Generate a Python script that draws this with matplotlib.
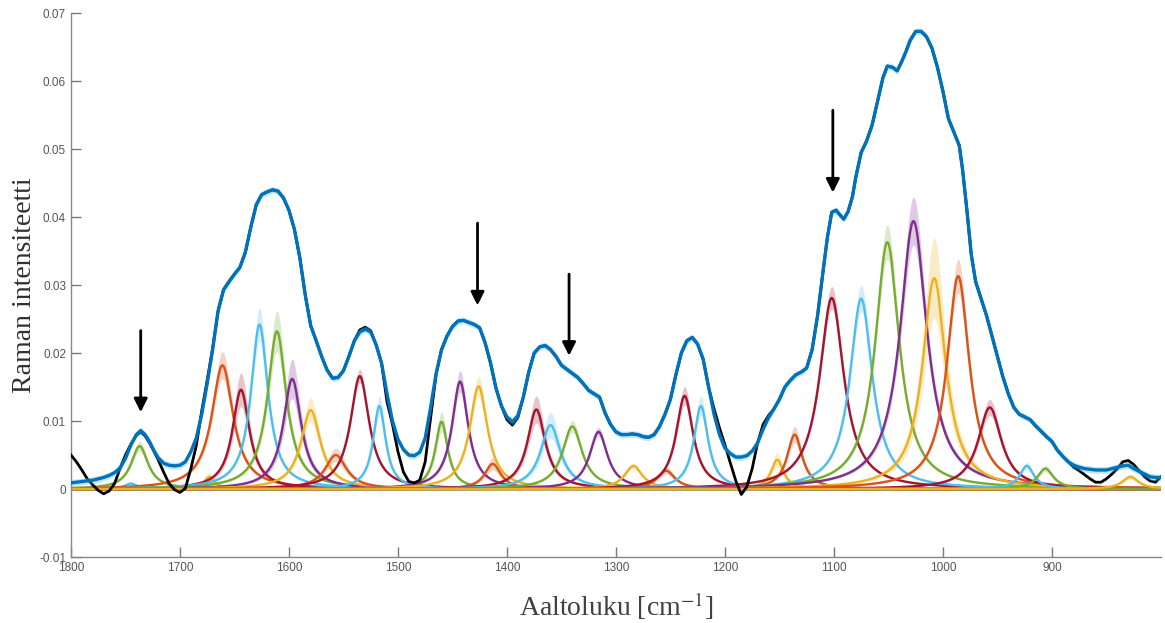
import numpy as np
import matplotlib
matplotlib.use("Agg")
import matplotlib.pyplot as plt

# ---------------- data ----------------
wavenumber = [
    1800, 1795, 1790, 1785, 1780, 1775, 1770, 1765, 1760, 1755, 1750, 1745, 1740, 1736,
    1732, 1728, 1724, 1720, 1715, 1710, 1705, 1700, 1695, 1690, 1685, 1680, 1675, 1670,
    1665, 1660, 1655, 1650, 1645, 1640, 1635, 1630, 1625, 1620, 1615, 1610, 1605, 1600,
    1595, 1590, 1585, 1580, 1575, 1570, 1565, 1560, 1555, 1550, 1545, 1540, 1535, 1530,
    1525, 1520,
    1515, 1510, 1505, 1500, 1495, 1490, 1485, 1480, 1475, 1470, 1465, 1460, 1455, 1450,
    1445, 1440, 1435, 1430, 1425, 1420, 1415, 1410, 1405, 1400, 1395, 1390, 1385, 1380,
    1375, 1370, 1365, 1360, 1355, 1350, 1345, 1340, 1335, 1330, 1325, 1320, 1315, 1310,
    1305, 1300, 1295, 1290, 1285, 1280, 1275, 1270, 1265, 1260, 1255, 1250, 1245, 1240,
    1235, 1230, 1225, 1220, 1215, 1210, 1205, 1200, 1195, 1190, 1185, 1180, 1175, 1170,
    1165, 1160,
    1155, 1150, 1145, 1140, 1135, 1130, 1125, 1120, 1115, 1110, 1106, 1102, 1098, 1095,
    1091, 1087, 1083, 1080, 1075, 1070, 1065, 1060, 1055, 1051, 1046, 1042, 1038, 1034,
    1030, 1025, 1020, 1015, 1010, 1005, 1000, 995, 990, 985, 982, 978, 974, 970,
    965, 960, 955, 950, 945, 940, 935, 930, 925, 920, 915, 910, 905, 900,
    895, 890, 885, 880, 875, 870, 865, 860, 855, 850, 845, 840, 835, 830,
    825, 820, 815, 810, 805, 800,
]

fit_intensity = [
    .0009, .0010, .0011, .0012, .0013, .0015, .0017, .0020, .0024, .0031, .0045, .0065, .0080, .0086,
    .0080, .0070, .0057, .0046, .0038, .0035, .0034, .0035, .0040, .0055, .0075, .0110, .0155, .0205,
    .0262, .0293, .0305, .0316, .0326, .0348, .0385, .0418, .0433, .0437, .0440, .0438, .0428, .0410,
    .0382, .0340, .0285, .0240, .0218, .0195, .0175, .0163, .0164, .0174, .0195, .0218, .0231, .0235,
    .0231, .0212,
    .0185, .0140, .0100, .0073, .0058, .0050, .0049, .0054, .0075, .0120, .0170, .0205, .0225, .0239,
    .0247, .0248, .0245, .0242, .0237, .0215, .0185, .0148, .0122, .0106, .0099, .0108, .0135, .0172,
    .0200, .0209, .0211, .0205, .0195, .0182, .0176, .0170, .0164, .0155, .0145, .0140, .0135, .0112,
    .0095, .0084, .0080, .0080, .0081, .0080, .0077, .0076, .0080, .0092, .0110, .0132, .0168, .0200,
    .0218, .0223, .0213, .0191, .0150, .0110, .0080, .0060, .0052, .0047, .0047, .0049, .0056, .0068,
    .0088, .0105,
    .0118, .0132, .0150, .0160, .0168, .0172, .0178, .0205, .0255, .0320, .0370, .0407, .0410, .0404,
    .0397, .0408, .0430, .0458, .0495, .0512, .0535, .0570, .0605, .0622, .0620, .0615, .0628, .0643,
    .0660, .0673, .0673, .0665, .0648, .0620, .0585, .0545, .0525, .0505, .0470, .0410, .0345, .0305,
    .0280, .0255, .0225, .0195, .0165, .0140, .0120, .0110, .0106, .0102, .0093, .0085, .0077, .0070,
    .0057, .0048, .0040, .0035, .0032, .0030, .0029, .0028, .0028, .0028, .0030, .0032, .0034, .0035,
    .0030, .0026, .0022, .0018, .0017, .0017,
]

# measured spectrum: identical to the fit except at these wavenumbers
measured_where_different = {
    1800: .0050, 1795: .0040, 1790: .0028, 1785: .0015, 1780: .0006, 1775: -.0002,
    1770: -.0007, 1765: -.0003, 1760: .0008, 1755: .0030, 1750: .0050, 1745: .0066,
    1740: .0079, 1736: .0084, 1732: .0078, 1728: .0068, 1724: .0056, 1720: .0043,
    1715: .0025, 1710: .0008, 1705: -.0001, 1700: -.0005, 1695: .0001, 1690: .0030,
    1685: .0064, 1680: .0115, 1675: .0160, 1670: .0207,
    1535: .0234, 1530: .0238, 1525: .0233,
    1510: .0128, 1505: .0095, 1500: .0055, 1495: .0025, 1490: .0011, 1485: .0009,
    1480: .0013, 1475: .0040, 1470: .0105, 1465: .0168,
    1400: .0102, 1395: .0094, 1390: .0105,
    1210: .0118, 1205: .0090, 1200: .0065, 1195: .0038, 1190: .0012, 1185: -.0008,
    1180: .0003, 1175: .0030, 1170: .0068, 1165: .0095, 1160: .0108,
    880: .0032, 875: .0027, 870: .0021, 865: .0015, 860: .0010, 855: .0010,
    850: .0015, 845: .0022, 840: .0030, 835: .0040, 830: .0042, 825: .0036,
    820: .0027, 815: .0018, 810: .0012, 805: .0010, 800: .0018,
}

# fitted component bands
peak_center = [1745, 1737, 1673, 1661, 1644, 1627, 1611, 1597, 1580, 1557, 1535, 1517,
               1460, 1443, 1426, 1413, 1373, 1360, 1340, 1316, 1284, 1254, 1237, 1222,
               1152, 1136, 1102, 1075, 1051, 1027, 1008, 986, 957, 923, 906, 828]
peak_height = [.0008, .0063, .0018, .0182, .0146, .0242, .0232, .0162, .0116, .0050, .0166, .0122,
               .0099, .0158, .0151, .0037, .0117, .0094, .0092, .0084, .0034, .0027, .0137, .0122,
               .0043, .0080, .0281, .0280, .0363, .0394, .0310, .0313, .0120, .0034, .0030, .0018]
peak_fwhm = [14, 19, 12, 24, 19, 19, 21, 20, 22, 24, 21, 14,
             14, 18, 20, 18, 20, 22, 22, 20, 20, 20, 19, 16,
             14, 17, 27, 25, 27, 30, 26, 25, 26, 16, 18, 18]
peak_rel_uncertainty = [.30, .12, .35, .11, .17, .10, .13, .18, .15, .20, .06, .12,
                        .15, .10, .10, .25, .17, .20, .10, .08, .12, .20, .10, .12,
                        .25, .15, .06, .07, .07, .09, .19, .08, .10, .15, .15, .20]

# arrows: (wavenumber, tail intensity, tip intensity)
arrow_x = [1736, 1427, 1343, 1101]
arrow_tail = [0.0233, 0.0391, 0.0316, 0.0557]
arrow_tip = [0.0113, 0.0270, 0.0196, 0.0436]

# ---------------- style ----------------
mat_blue = "#0072BD"
mat_orange = "#D95319"
mat_yellow = "#EDB120"
mat_purple = "#7E2F8E"
mat_green = "#77AC30"
mat_lblue = "#4DBEEE"
mat_red = "#A2142F"
peak_colors = [mat_lblue, mat_green, mat_yellow, mat_orange, mat_red, mat_lblue, mat_green,
               mat_purple, mat_yellow, mat_orange, mat_red, mat_lblue,
               mat_green, mat_purple, mat_yellow, mat_orange, mat_red, mat_lblue, mat_green,
               mat_purple, mat_yellow, mat_orange, mat_red, mat_lblue,
               mat_yellow, mat_orange, mat_red, mat_lblue, mat_green, mat_purple, mat_yellow,
               mat_orange, mat_red, mat_lblue, mat_green, mat_yellow]

plt.rcParams["font.family"] = ["Liberation Sans", "DejaVu Sans"]
plt.rcParams["mathtext.fontset"] = "stix"

fig = plt.figure(figsize=(11.65, 6.23), dpi=100)
ax = fig.add_axes([0.0609, 0.1059, 0.9356, 0.8732])

grid = np.linspace(800, 1800, 2001)
for c, h, w, u, col in zip(peak_center, peak_height, peak_fwhm, peak_rel_uncertainty, peak_colors):
    g = w / 2.0
    prof = h * g ** 2 / ((grid - c) ** 2 + g ** 2)
    ax.fill_between(grid, prof * (1 - u), prof * (1 + u), color=col, alpha=0.25,
                    linewidth=0, zorder=1)
    ax.plot(grid, prof, color=col, lw=1.7, zorder=2)

meas = [measured_where_different.get(w, f) for w, f in zip(wavenumber, fit_intensity)]
ax.plot(wavenumber, meas, color="black", lw=2.0, zorder=3)
fit = np.array(fit_intensity)
ax.fill_between(wavenumber, fit - 0.0005, fit + 0.0005, color=mat_lblue, alpha=0.35,
                linewidth=0, zorder=3.5)
ax.plot(wavenumber, fit, color=mat_blue, lw=2.4, zorder=4)

for x, t0, t1 in zip(arrow_x, arrow_tail, arrow_tip):
    ax.annotate("", xy=(x, t1), xytext=(x, t0),
                arrowprops=dict(arrowstyle="-|>", color="black", lw=2.0,
                                mutation_scale=20, shrinkA=0, shrinkB=0),
                zorder=6)

ax.set_xlim(1800, 800)
ax.set_ylim(-0.01, 0.07)
xt = [1800, 1700, 1600, 1500, 1400, 1300, 1200, 1100, 1000, 900]
ax.set_xticks(xt)
ax.set_xticklabels([str(v) for v in xt])
yt = [-0.01, 0, 0.01, 0.02, 0.03, 0.04, 0.05, 0.06, 0.07]
ax.set_yticks(yt)
ax.set_yticklabels(["-0.01", "0", "0.01", "0.02", "0.03", "0.04", "0.05", "0.06", "0.07"])
ax.tick_params(direction="in", length=7, width=1.0, color="#777777",
               labelcolor="#555555", labelsize=8.5)
for s in ["top", "right"]:
    ax.spines[s].set_visible(False)
for s in ["left", "bottom"]:
    ax.spines[s].set_color("#888888")
    ax.spines[s].set_linewidth(1.0)

ax.set_xlabel("Aaltoluku [cm$^{-1}$]", fontsize=20, family="Liberation Serif",
              color="#404040", labelpad=12)
ax.set_ylabel("Raman intensiteetti", fontsize=20, family="Liberation Serif",
              color="#303030", va="center")
ax.yaxis.set_label_coords(-0.043, 0.5)

fig.savefig("out.png", dpi=100)
